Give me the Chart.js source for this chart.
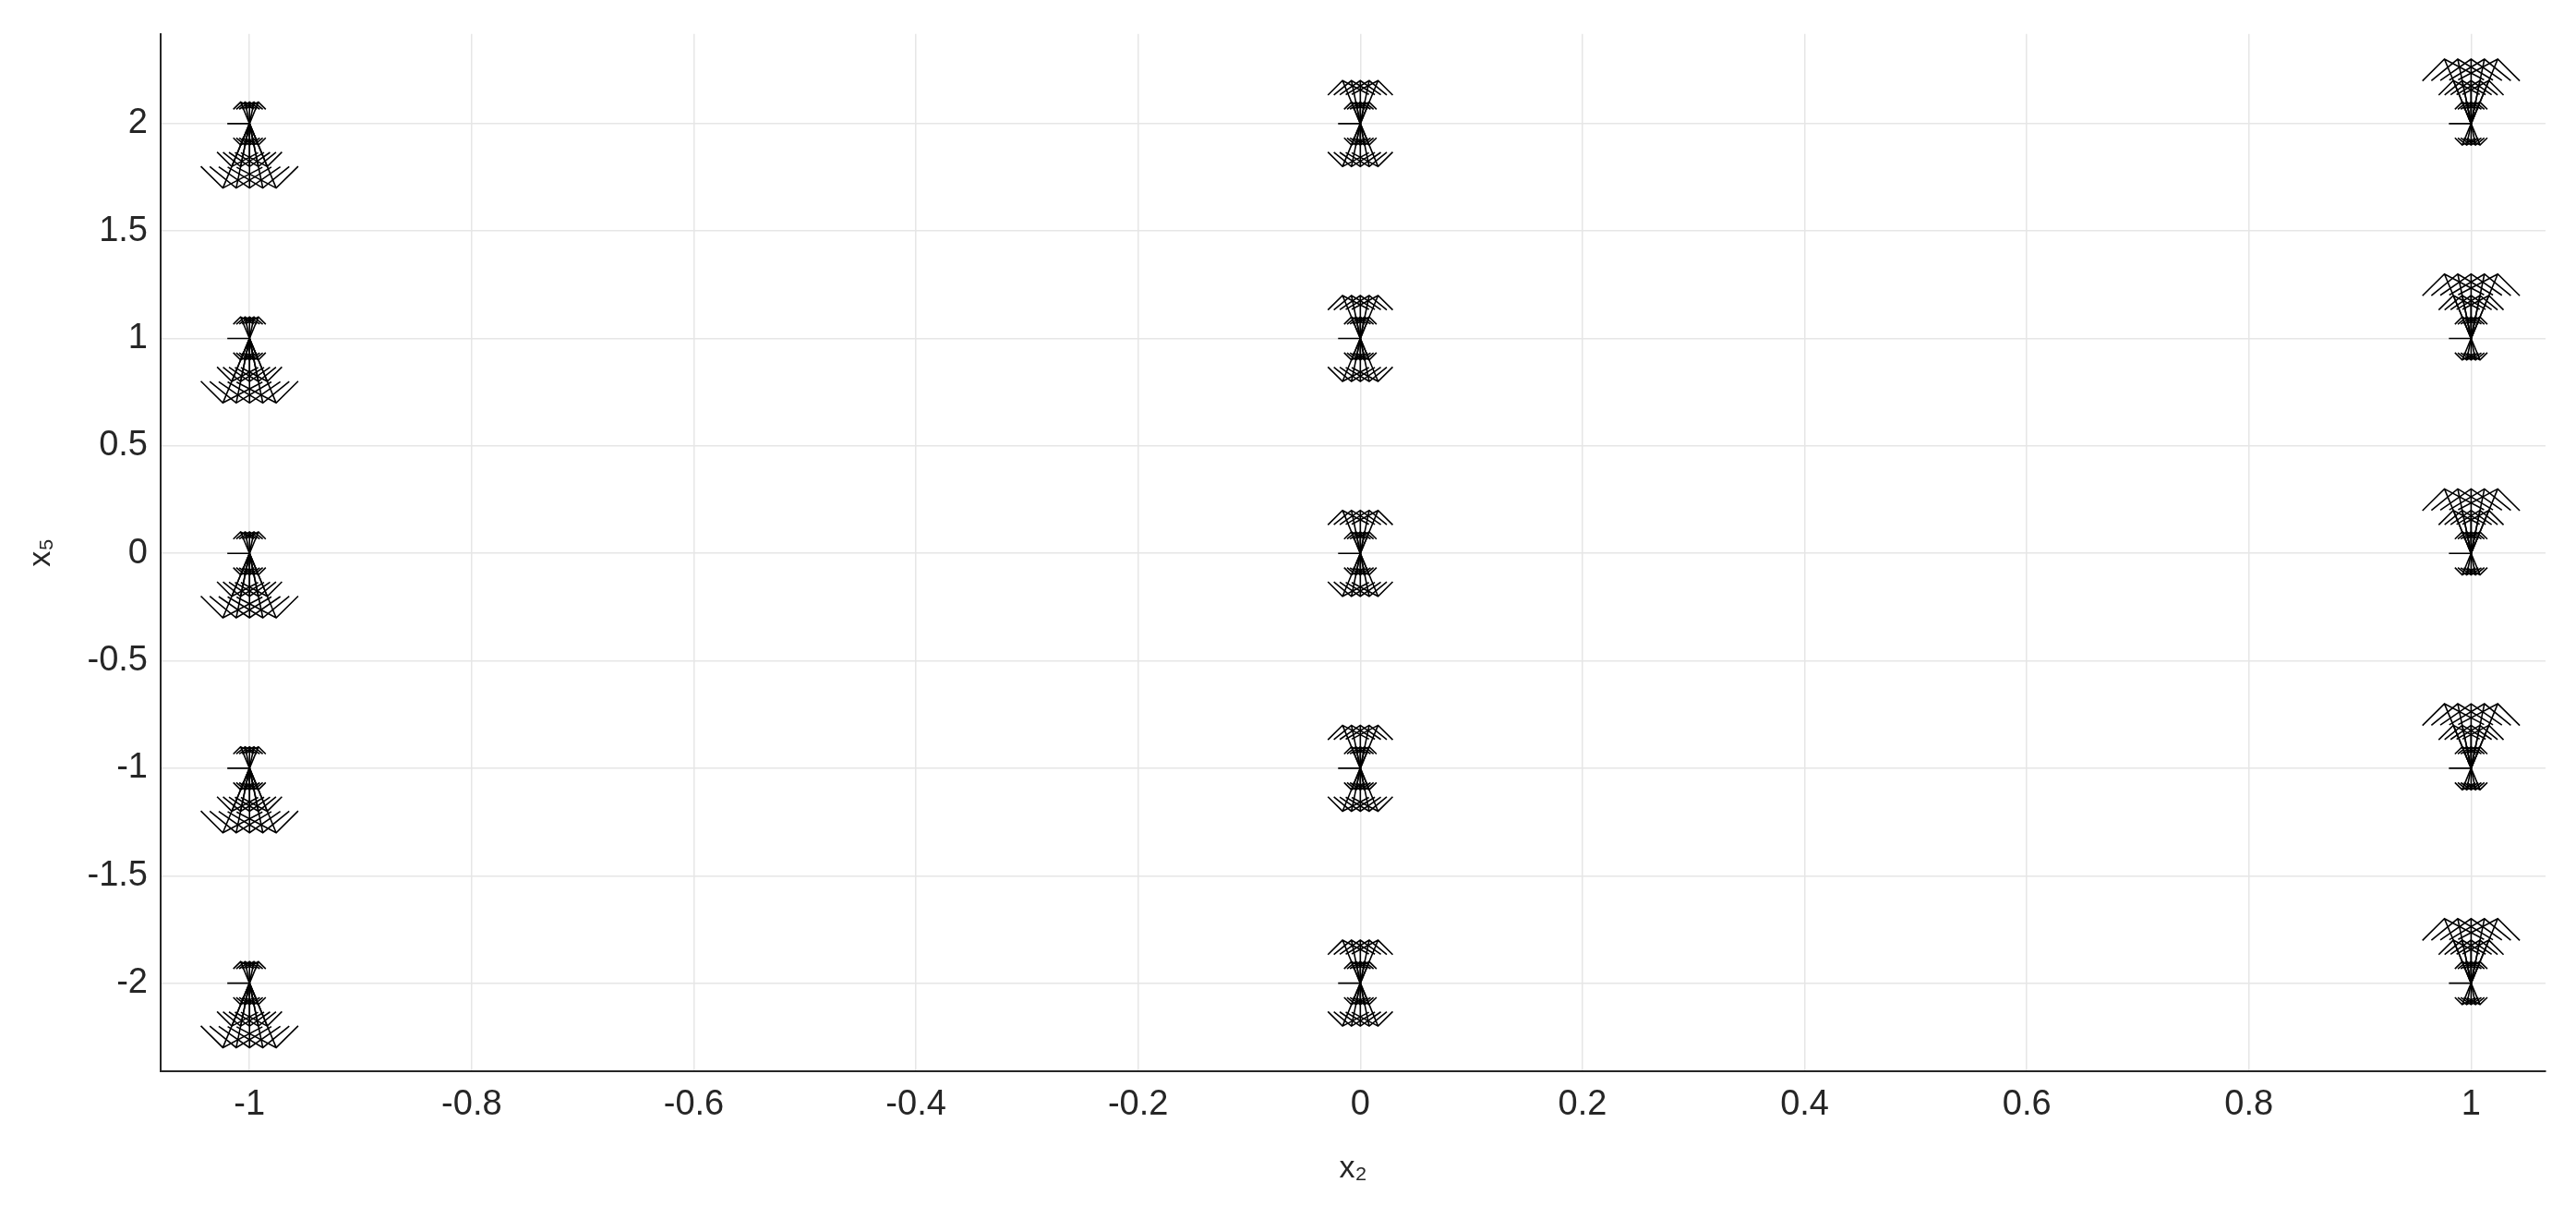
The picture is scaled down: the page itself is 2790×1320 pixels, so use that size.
<!DOCTYPE html>
<html>
<head>
<meta charset="utf-8">
<script src="https://cdn.jsdelivr.net/npm/chart.js@4.4.0/dist/chart.umd.min.js"></script>
<style>
  html, body { margin: 0; padding: 0; background: #fff; }
  #wrap { width: 2790px; height: 1320px; }
</style>
</head>
<body>
<div id="wrap"><canvas id="c" width="2790" height="1320"></canvas></div>
<script>
// grid of base points (x2, x5)
const x2Values = [-1, 0, 1];
const x5Values = [-2, -1, 0, 1, 2];

// arrow components per x2 column
const dyLeft = [0.1, -0.1, -0.2, -0.3];
const dyMid = [0.2, 0.1, -0.1, -0.2];
const dyRight = [0.3, 0.2, 0.1, -0.1];
const dxSpread = [-0.02, -0.01, 0, 0.01, 0.02];
const dxFlat = -0.02;   // horizontal stub at each base point

const dyByColumn = { "-1": dyLeft, "0": dyMid, "1": dyRight };

// MATLAB-style quiver head params
const alpha = 0.33, beta = 0.28;

const basePoints = [];
x2Values.forEach(x => x5Values.forEach(y => basePoints.push({ x: x, y: y })));

const quiverPlugin = {
    id: "quiver",
    afterDatasetsDraw(chart) {
        const ctx = chart.ctx;
        const xs = chart.scales.x, ys = chart.scales.y;
        const px = v => xs.getPixelForValue(v);
        const py = v => ys.getPixelForValue(v);
        ctx.save();
        ctx.beginPath();
        ctx.rect(chart.chartArea.left, chart.chartArea.top, chart.chartArea.width, chart.chartArea.height);
        ctx.clip();
        ctx.strokeStyle = "#000";
        ctx.lineWidth = 1.6;
        basePoints.forEach(p => {
            const vecs = [{ u: dxFlat, v: 0 }];
            dyByColumn[String(p.x)].forEach(dv => {
                dxSpread.forEach(du => vecs.push({ u: du * Math.abs(dv) * 4, v: dv }));
            });
            vecs.forEach(a => {
                const ex = p.x + a.u, ey = p.y + a.v;
                ctx.beginPath();
                ctx.moveTo(px(p.x), py(p.y));
                ctx.lineTo(px(ex), py(ey));
                if (a.v !== 0) {
                    const h1x = ex - alpha * (a.u + beta * a.v), h1y = ey - alpha * (a.v - beta * a.u);
                    const h2x = ex - alpha * (a.u - beta * a.v), h2y = ey - alpha * (a.v + beta * a.u);
                    ctx.moveTo(px(h1x), py(h1y));
                    ctx.lineTo(px(ex), py(ey));
                    ctx.lineTo(px(h2x), py(h2y));
                }
                ctx.stroke();
            });
        });
        ctx.restore();
    }
};

const tickFont = { family: "Liberation Sans, Arial, sans-serif", size: 38 };
const titleFont = { family: "Liberation Sans, Arial, sans-serif", size: 34 };

new Chart(document.getElementById("c"), {
    type: "scatter",
    data: { datasets: [{ data: basePoints, pointRadius: 0, showLine: false }] },
    options: {
        responsive: false,
        animation: false,
        devicePixelRatio: 1,
        layout: { padding: { top: 18, right: 33, left: 20, bottom: 30 } },
        plugins: { legend: { display: false }, tooltip: { enabled: false } },
        scales: {
            x: {
                type: "linear", min: -1.08, max: 1.067,
                afterFit: s => { s.height = 130; },
                ticks: { stepSize: 0.2, includeBounds: false, color: "#262626", font: tickFont, padding: 14,
                    callback: v => Math.abs(v) < 1e-9 ? "0" : String(Math.round(v * 10) / 10) },
                grid: { color: "#e6e6e6", lineWidth: 1.5, tickLength: 0, drawTicks: false },
                border: { color: "#262626", width: 2 },
                title: { display: true, text: "x₂", color: "#262626", font: titleFont, padding: { top: 0 } }
            },
            y: {
                type: "linear", min: -2.41, max: 2.417,
                afterFit: s => { s.width = 154; },
                ticks: { stepSize: 0.5, includeBounds: false, color: "#262626", font: tickFont, padding: 14,
                    callback: v => Math.abs(v) < 1e-9 ? "0" : String(v) },
                grid: { color: "#e6e6e6", lineWidth: 1.5, drawTicks: false },
                border: { color: "#262626", width: 2 },
                title: { display: true, text: "x₅", color: "#262626", font: titleFont, padding: { bottom: 0 } }
            }
        }
    },
    plugins: [quiverPlugin]
});
</script>
</body>
</html>
